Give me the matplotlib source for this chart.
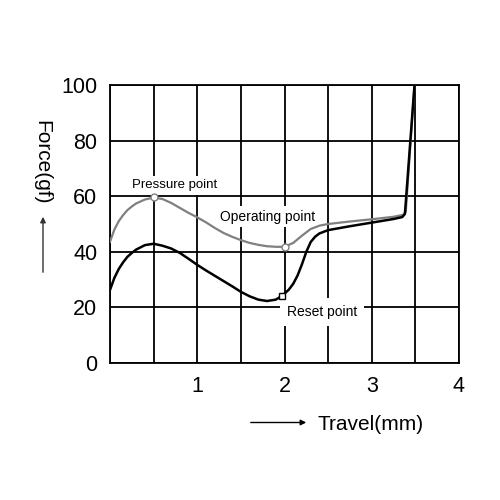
import matplotlib.pyplot as plt

plt.rcParams['font.family'] = ['Liberation Sans', 'DejaVu Sans']

# press stroke (grey)
press_x = [0, 0.05, 0.1, 0.15, 0.2, 0.25, 0.3, 0.4, 0.5, 0.6, 0.7, 0.8, 0.9, 1.0,
           1.1, 1.2, 1.3, 1.4, 1.5, 1.6, 1.7, 1.8, 1.9, 2.0, 2.1, 2.2, 2.3, 2.4,
           2.5, 2.75, 3.0, 3.25, 3.36, 3.39, 3.49]
press_y = [43.6, 48.0, 51.0, 53.2, 55.0, 56.3, 57.4, 58.8, 59.5, 59.0, 57.6, 55.8,
           54.0, 52.4, 50.6, 48.6, 46.8, 45.4, 44.2, 43.2, 42.5, 42.0, 41.8, 41.8,
           43.2, 45.8, 48.2, 49.4, 50.0, 50.9, 51.7, 52.6, 53.3, 54.4, 100]

# release stroke (black)
rel_x = [0, 0.05, 0.1, 0.15, 0.2, 0.25, 0.3, 0.4, 0.5, 0.6, 0.7, 0.8, 0.9, 1.0,
         1.1, 1.2, 1.3, 1.4, 1.5, 1.6, 1.7, 1.8, 1.9, 1.97, 2.05, 2.1, 2.15, 2.2,
         2.25, 2.3, 2.35, 2.4, 2.5, 2.75, 3.0, 3.25, 3.35, 3.38, 3.49]
rel_y = [26.3, 30.6, 33.8, 36.2, 38.2, 39.6, 40.8, 42.4, 42.9, 42.2, 41.2, 39.6,
         37.5, 35.3, 33.3, 31.4, 29.5, 27.6, 25.6, 24.0, 22.8, 22.3, 22.8, 24.1,
         26.4, 28.5, 31.5, 35.5, 40, 43.5, 45.4, 46.6, 47.8, 49.2, 50.5, 51.8,
         52.5, 53.6, 100]

# marked points
pressure_pt = (0.5, 59.6)
operating_pt = (2.0, 41.8)
reset_pt = (1.97, 24.1)

x_ticks = [1, 2, 3, 4]
y_ticks = [0, 20, 40, 60, 80, 100]

fig = plt.figure(figsize=(5, 5), dpi=100)
ax = fig.add_axes([0.22, 0.274, 0.698, 0.556])

ax.set_xlim(0, 4)
ax.set_ylim(0, 100)
grid_x = [i * 0.5 for i in range(9)]
ax.set_xticks(grid_x)
ax.set_xticklabels([str(int(v)) if v in x_ticks else '' for v in grid_x])
ax.set_yticks(y_ticks)
ax.set_yticklabels([str(v) for v in y_ticks])
ax.grid(True, color='black', lw=1.3)
ax.tick_params(length=0, labelsize=15.5, pad=9)
for s in ax.spines.values():
    s.set_linewidth(1.3)

ax.plot(press_x, press_y, color='#808080', lw=1.6, zorder=3)
ax.plot(rel_x, rel_y, color='black', lw=1.8, zorder=3)

ax.plot(*pressure_pt, 'o', ms=5, mfc='white', mec='#808080', mew=1, zorder=4)
ax.plot(*operating_pt, 'o', ms=5, mfc='white', mec='#808080', mew=1, zorder=4)
ax.plot(*reset_pt, 's', ms=4.5, mfc='white', mec='black', mew=1, zorder=4)

box = dict(facecolor='white', edgecolor='none', pad=2.5)
ax.text(0.25, 64, 'Pressure point', fontsize=9.5, va='center', ha='left', bbox=box, zorder=2)
ax.text(1.26, 52.6, 'Operating point', fontsize=10, va='center', ha='left', bbox=box, zorder=2)
ax.text(2.03, 18.5, 'Reset point', fontsize=10, va='center', ha='left',
        bbox=dict(facecolor='white', edgecolor='none', pad=5), zorder=2)

# axis titles with arrows
fig.text(0.084, 0.675, 'Force(gf)', rotation=270, fontsize=15, ha='center', va='center')
fig.text(0.636, 0.15, 'Travel(mm)', fontsize=15, ha='left', va='center')
fig.add_artist(plt.Annotation('', xy=(0.086, 0.572), xytext=(0.086, 0.45),
                              xycoords='figure fraction',
                              arrowprops=dict(arrowstyle='-|>', color='#333333', lw=1,
                                              mutation_scale=8)))
fig.add_artist(plt.Annotation('', xy=(0.618, 0.155), xytext=(0.496, 0.155),
                              xycoords='figure fraction',
                              arrowprops=dict(arrowstyle='-|>', color='black', lw=1,
                                              mutation_scale=8)))

fig.savefig('out.png', dpi=100)
